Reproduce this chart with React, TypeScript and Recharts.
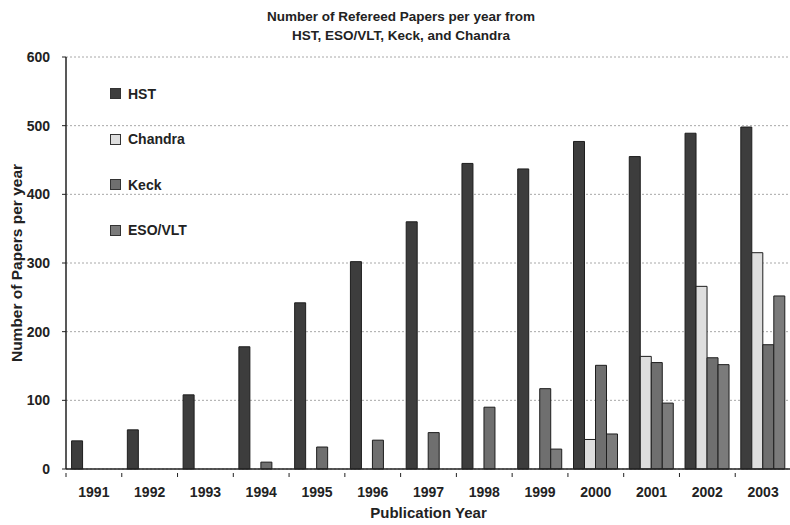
import { BarChart, Bar, XAxis, YAxis, CartesianGrid } from "recharts";

const years = ["1991", "1992", "1993", "1994", "1995", "1996", "1997", "1998", "1999", "2000", "2001", "2002", "2003"];
const hst = [41, 57, 108, 178, 242, 302, 360, 445, 437, 477, 455, 489, 498];
const chandra = [0, 0, 0, 0, 0, 0, 0, 0, 0, 43, 164, 266, 315];
const keck = [0, 0, 0, 10, 32, 42, 53, 90, 117, 151, 155, 162, 181];
const esoVlt = [0, 0, 0, 0, 0, 0, 0, 0, 29, 51, 96, 152, 252];
const yTicks = [0, 100, 200, 300, 400, 500, 600];

const series = [
  { key: "hst", name: "HST", color: "#3d3d3d" },
  { key: "chandra", name: "Chandra", color: "#dedede" },
  { key: "keck", name: "Keck", color: "#6f6f6f" },
  { key: "eso", name: "ESO/VLT", color: "#7b7b7b" },
];

const data = years.map((year, i) => ({
  year,
  hst: hst[i],
  chandra: chandra[i],
  keck: keck[i],
  eso: esoVlt[i],
}));

const FONT = '"Liberation Sans", Arial, sans-serif';
const INK = "#222";

function YearTick(props: any) {
  const { x, y, payload } = props;
  const off = payload.offset ?? 0;
  return (
    <g>
      <line x1={x - off} x2={x - off} y1={y - 4} y2={y} stroke={INK} />
      <text x={x} y={y + 10} dy="0.71em" textAnchor="middle" fill={INK} fontSize={14} fontWeight="bold" fontFamily={FONT}>
        {payload.value}
      </text>
    </g>
  );
}

// legend sits inside the plot, drawn as plain html so it doesn't shrink the plot area
function LegendBox() {
  return (
    <div style={{ position: "absolute", left: 110, top: 71, fontFamily: FONT, fontWeight: "bold", fontSize: 14, color: INK }}>
      {series.map((s) => (
        <div key={s.key} style={{ display: "flex", alignItems: "center", height: 45.5 }}>
          <span style={{ width: 9, height: 9, background: s.color, border: "1px solid #333", marginRight: 7 }} />
          <span>{s.name}</span>
        </div>
      ))}
    </div>
  );
}

export default function App() {
  return (
    <div style={{ position: "absolute", left: 0, top: 0, width: 790, height: 525, background: "#fff", fontFamily: FONT, overflow: "hidden" }}>
      <div style={{ position: "absolute", left: 0, top: 7, width: 802, textAlign: "center", fontSize: 13.5, fontWeight: "bold", color: INK, lineHeight: "19px" }}>
        Number of Refereed Papers per year from
        <br />
        HST, ESO/VLT, Keck, and Chandra
      </div>
      <BarChart
        width={791}
        height={525}
        data={data}
        margin={{ top: 57, right: 0, bottom: 0, left: 0 }}
        barCategoryGap="10%"
        barGap={0}
      >
        <CartesianGrid vertical={false} stroke="#a8a8a8" strokeDasharray="2 2" />
        <XAxis
          dataKey="year"
          height={56}
          tickLine={false}
          axisLine={{ stroke: INK, strokeWidth: 1.5 }}
          tick={<YearTick />}
          interval={0}
          label={{ value: "Publication Year", position: "insideBottom", offset: 7, fill: INK, fontSize: 15, fontWeight: "bold", fontFamily: FONT }}
        />
        <YAxis
          width={66}
          domain={[0, 600]}
          ticks={yTicks}
          interval={0}
          tickSize={4}
          tickMargin={12}
          axisLine={{ stroke: INK, strokeWidth: 1.5 }}
          tickLine={{ stroke: INK }}
          tick={{ fill: INK, fontSize: 14, fontWeight: "bold", fontFamily: FONT }}
          label={{ value: "Number of Papers  per year", angle: -90, position: "insideLeft", offset: 16, fill: INK, fontSize: 15.5, fontWeight: "bold", fontFamily: FONT, style: { textAnchor: "middle", whiteSpace: "pre" } }}
        />
        {series.map((s) => (
          <Bar key={s.key} dataKey={s.key} name={s.name} fill={s.color} stroke="#1e1e1e" strokeWidth={1} isAnimationActive={false} />
        ))}
      </BarChart>
      <LegendBox />
    </div>
  );
}
